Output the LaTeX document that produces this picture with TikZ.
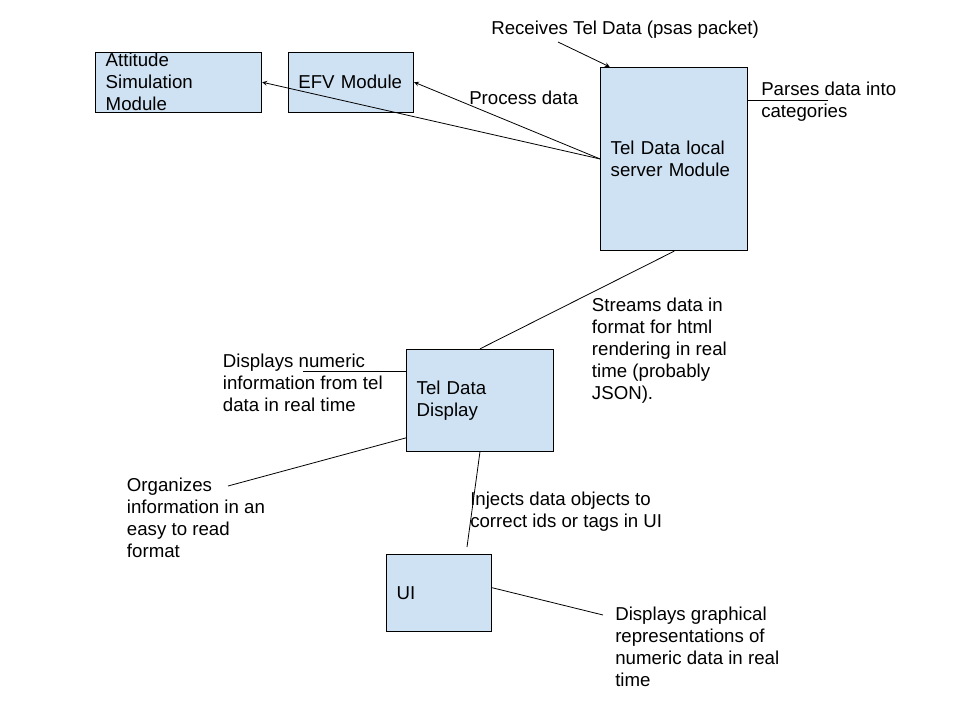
\documentclass[tikz,border=0pt]{standalone}
\usepackage{fontspec}
\setmainfont{Liberation Sans}
\usepackage{tikz}
\usetikzlibrary{arrows,shapes,positioning}
\usepackage{xcolor}
\definecolor{boxblue}{HTML}{CFE2F3}
\tikzstyle{arrow} = [line width=0.6pt,->,>=stealth,color=black]
\tikzstyle{link} = [line width=0.6pt,color=black]
\tikzstyle{module} = [draw, line width=0.75pt, fill=boxblue, inner xsep=7.5pt, inner ysep=0pt, align=left]
\tikzstyle{note} = [anchor=north west, inner sep=0pt, align=left]

\begin{document}
\begin{tikzpicture}[x=0.75pt, y=-0.75pt, font=\fontsize{14pt}{16.5pt}\selectfont]
\useasboundingbox (0,0) rectangle (960,720);
% Modules
\node[module, minimum width=124.5pt, minimum height=45pt, text width=109.5pt] (att) at (178.7,82.2) {Attitude\\Simulation\\Module};
\node[module, minimum width=94pt, minimum height=45pt, text width=79pt] (efv) at (351,82.2) {EFV Module};
\node[module, minimum width=110.25pt, minimum height=137.5pt, text width=95.25pt] (srv) at (674.2,159) {Tel Data local\\server Module};
\node[module, minimum width=110pt, minimum height=76.3pt, text width=95pt] (disp) at (480,400.2) {Tel Data\\Display};
\node[module, minimum width=78.75pt, minimum height=57.5pt, text width=63.75pt] (ui) at (439.2,593.3) {UI};

% Notes
\node[note] (rcvTxt) at (491,21) {Receives Tel Data (psas packet)};
\node[note] (prsTxt) at (761,81.5) {Parses data into\\categories};
\node[note] (prcTxt) at (469,90.5) {Process data};
\node[note] (strTxt) at (591.7,298) {Streams data in\\format for html\\rendering in real\\time (probably\\JSON).};
\node[note] (numTxt) at (222.7,354) {Displays numeric\\information from tel\\data in real time};
\node[note] (orgTxt) at (126.7,477.5) {Organizes\\information in an\\easy to read\\format};
\node[note] (injTxt) at (470,491.5) {Injects data objects to\\correct ids or tags in UI};
\node[note] (gfxTxt) at (615,606.5) {Displays graphical\\representations of\\numeric data in real\\time};

% Free ends of the note lines
\coordinate (rcv) at (558,42);
\coordinate (prs) at (828,100);
\coordinate (num) at (303,371);
\coordinate (org) at (228,486);
\coordinate (inj) at (467,547);
\coordinate (gfx) at (603,615);

% Connectors
\draw[arrow] (srv.west) -- (att.east);
\draw[arrow] (srv.west) -- (efv.east);
\draw[arrow] (rcv) -- (srv.125);
\draw[link] (srv.east |- prs) -- (prs);
\draw[link] (srv.south) -- (disp.north);
\draw[link] (num) -- (num -| disp.west);
\draw[link] (org) -- (disp.207);
\draw[link] (disp.south) -- (inj);
\draw[link] (ui.6) -- (gfx);
\end{tikzpicture}
\end{document}
